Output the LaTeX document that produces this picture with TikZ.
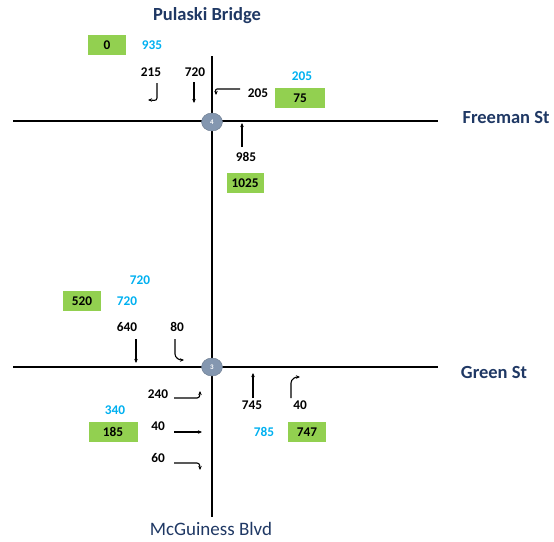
\documentclass[tikz,border=0pt]{standalone}
\usepackage{fontspec}
\setmainfont{Carlito}
\usetikzlibrary{arrows.meta,shapes.geometric}
\definecolor{cyanc}{HTML}{00B0F0}
\definecolor{greenc}{HTML}{92D050}
\definecolor{navy}{HTML}{1F3864}
\definecolor{nodec}{HTML}{8497B0}
\tikzset{
  road/.style={line width=1.8pt, black},
  mv/.style={line width=1.1pt, black, -{Stealth[length=4pt,width=3.5pt]}},
  num/.style={font=\fontsize{13.3}{15}\selectfont\bfseries, text=black, inner sep=0pt},
  cnum/.style={font=\fontsize{13.3}{15}\selectfont\bfseries, text=cyanc, inner sep=0pt},
  gbox/.style={fill=greenc, font=\fontsize{13.3}{15}\selectfont\bfseries, text=black, inner sep=0pt, minimum height=20pt},
  street/.style={font=\fontsize{18.5}{21}\selectfont\bfseries, text=navy, inner sep=0pt},
  inter/.style={ellipse, fill=nodec, draw=nodec!80!black, line width=0.4pt, minimum width=21pt, minimum height=18pt, inner sep=0pt, text=white, font=\fontsize{7}{8}\selectfont\bfseries}
}
\begin{document}
\begin{tikzpicture}[x=1pt,y=-1pt]
\useasboundingbox (0,0) rectangle (554,541);
% roads
\coordinate (vt) at (212,56);
\coordinate (vb) at (212,517);
\coordinate (h1l) at (13,121);
\coordinate (h1r) at (438,121);
\coordinate (h2l) at (13,367);
\coordinate (h2r) at (438,367);
\draw[road] (vt) -- (vb);
\draw[road] (h1l) -- (h1r);
\draw[road] (h2l) -- (h2r);
\node[inter] (i4) at (212,122) {4};
\node[inter] (i3) at (212,367) {3};
% street names
\node[street] (pulaski) at (207,16) {Pulaski Bridge};
\node[street] (freeman) at (506,117) {Freeman St};
\node[street] (green) at (494,372) {Green St};
\node[font=\fontsize{19}{22}\selectfont, text=navy, inner sep=0pt] (mcg) at (211,529) {McGuiness Blvd};
% top intersection
\node[gbox, minimum width=38pt] (b0) at (107,45) {0};
\node[cnum] (c935) at (152,45) {935};
\node[num] (n215) at (151,72) {215};
\node[num] (n720) at (195,72) {720};
\coordinate (a215s) at (157,83);
\coordinate (a215m) at (157,98);
\coordinate (a215e) at (148,100);
\draw[mv] (a215s) -- (a215m) to[out=-90,in=0] (a215e);
\coordinate (a720s) at (194,82);
\coordinate (a720e) at (194,103);
\draw[mv] (a720s) -- (a720e);
\coordinate (a205s) at (240,89);
\coordinate (a205m) at (217,89);
\coordinate (a205e) at (216,95);
\draw[mv] (a205s) -- (a205m) to[out=180,in=90] (a205e);
\node[num] (n205) at (258,93) {205};
\node[cnum] (c205) at (302,76) {205};
\node[gbox, minimum width=50pt] (b75) at (300,98) {75};
\coordinate (a985s) at (242,147);
\coordinate (a985e) at (242,123);
\draw[mv] (a985s) -- (a985e);
\node[num] (n985) at (246,157) {985};
\node[gbox, minimum width=37pt] (b1025) at (245,183) {1025};
% bottom intersection
\node[cnum] (c720a) at (140,280) {720};
\node[gbox, minimum width=38pt] (b520) at (82,301) {520};
\node[cnum] (c720b) at (127,301) {720};
\node[num] (n640) at (127,327) {640};
\node[num] (n80) at (177,327) {80};
\coordinate (a640s) at (136,339);
\coordinate (a640e) at (136,363);
\draw[mv] (a640s) -- (a640e);
\coordinate (a80s) at (175,339);
\coordinate (a80m) at (175,354);
\coordinate (a80e) at (184,360);
\draw[mv] (a80s) -- (a80m) to[out=-90,in=180] (a80e);
\node[num] (n240) at (158,394) {240};
\coordinate (a240s) at (174,398);
\coordinate (a240m) at (197,398);
\coordinate (a240e) at (200,391);
\draw[mv] (a240s) -- (a240m) to[out=0,in=-90] (a240e);
\node[num] (n40w) at (158,426) {40};
\coordinate (a40ws) at (174,432);
\coordinate (a40we) at (202,432);
\draw[mv] (a40ws) -- (a40we);
\node[num] (n60) at (158,458) {60};
\coordinate (a60s) at (174,463);
\coordinate (a60m) at (197,463);
\coordinate (a60e) at (200,470);
\draw[mv] (a60s) -- (a60m) to[out=0,in=90] (a60e);
\node[cnum] (c340) at (115,410) {340};
\node[gbox, minimum width=49pt] (b185) at (113,432) {185};
\coordinate (a745s) at (253,398);
\coordinate (a745e) at (253,373);
\draw[mv] (a745s) -- (a745e);
\coordinate (a40ns) at (291,398);
\coordinate (a40nm) at (291,383);
\coordinate (a40ne) at (300,377);
\draw[mv] (a40ns) -- (a40nm) to[out=90,in=180] (a40ne);
\node[num] (n745) at (252,405) {745};
\node[num] (n40n) at (300,405) {40};
\node[cnum] (c785) at (264,432) {785};
\node[gbox, minimum width=38pt] (b747) at (307,432) {747};
\end{tikzpicture}
\end{document}
